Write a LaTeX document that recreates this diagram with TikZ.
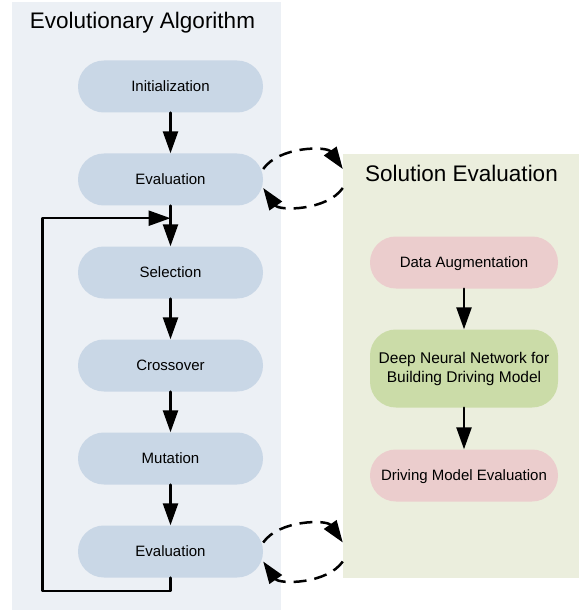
\documentclass[tikz,border=0pt]{standalone}
\usepackage{fontspec}
\setmainfont{Liberation Sans}
\usetikzlibrary{arrows.meta}

\definecolor{evopanel}{HTML}{ECF0F5}
\definecolor{solpanel}{HTML}{EBEEDD}
\definecolor{evoblue}{HTML}{C9D7E6}
\definecolor{solpink}{HTML}{EBCDCD}
\definecolor{solgreen}{HTML}{CBDCA8}

\tikzset{
  panel/.style={inner sep=0pt},
  paneltitle/.style={anchor=base,font=\fontsize{22.5}{26}\selectfont},
  evostep/.style={fill=evoblue,rounded corners=25.9pt,minimum width=185pt,minimum height=52pt,
    inner sep=0pt,font=\fontsize{15}{19}\selectfont,text height=10.8pt,text depth=0pt},
  solstep/.style={evostep,minimum width=188pt},
  flow/.style={->,line width=2.5pt},
  swap/.style={->,line width=2.5pt,line cap=butt,dash pattern=on 13pt off 8pt,looseness=0.9}
}

\begin{document}
\begin{tikzpicture}[line cap=round,line join=round,>={Triangle[length=22pt,width=15pt]},x=1pt,y=1pt]
\useasboundingbox (0,0) rectangle (579,-612);
% panels
\node[panel,fill=evopanel,minimum width=269pt,minimum height=608pt] (evolution) at (146.5,-306) {};
\node[panel,fill=solpanel,minimum width=236pt,minimum height=424pt] (solution) at (461,-366) {};
\node[paneltitle] (evotitle) at (142.5,-29) {Evolutionary Algorithm};
\node[paneltitle] (soltitle) at (461.5,-182) {Solution Evaluation};
% evolutionary loop
\node[evostep] (init) at (170.5,-86.5) {Initialization};
\node[evostep] (evaltop) at (170.5,-179.5) {Evaluation};
\node[evostep] (select) at (170.5,-272.5) {Selection};
\node[evostep] (cross) at (170.5,-365.5) {Crossover};
\node[evostep] (mutate) at (170.5,-458.5) {Mutation};
\node[evostep] (evalbot) at (170.5,-551.5) {Evaluation};
% solution evaluation
\node[solstep,fill=solpink] (augment) at (464,-262.5) {Data Augmentation};
\node[solstep,fill=solgreen,minimum height=78pt,align=center,text height=,text depth=,
  font=\fontsize{15.5}{19}\selectfont] (dnn) at (464,-368.5) {Deep Neural Network for\\Building Driving Model};
\node[solstep,fill=solpink] (assess) at (464,-475.5) {Driving Model Evaluation};
\draw[flow] (init) -- (evaltop);
\draw[flow] (evaltop) -- (select);
\draw[flow] (select) -- (cross);
\draw[flow] (cross) -- (mutate);
\draw[flow] (mutate) -- (evalbot);
\draw[flow] (augment) -- (dnn);
\draw[flow] (dnn) -- (assess);
% back to selection
\coordinate (rejoin) at ([yshift=-12.5pt]evaltop.south);
\draw[flow] (evalbot.south) |- ++(-128pt,-13.5pt) |- (rejoin);
% exchange with solution evaluation
\coordinate (topout) at ([yshift=10.5pt]evaltop.east);
\coordinate (topin) at (solution.west |- topout);
\coordinate (topback) at ([yshift=-8.5pt]evaltop.east);
\coordinate (topret) at (solution.west |- topback);
\draw[swap] (topout) to[out=55,in=125] (topin);
\draw[swap] (topret) to[out=-125,in=-55] (topback);
\coordinate (botout) at ([yshift=9pt]evalbot.east);
\coordinate (botin) at (solution.west |- botout);
\coordinate (botback) at ([yshift=-10pt]evalbot.east);
\coordinate (botret) at (solution.west |- botback);
\draw[swap] (botout) to[out=55,in=125] (botin);
\draw[swap] (botret) to[out=-125,in=-55] (botback);
\end{tikzpicture}
\end{document}
